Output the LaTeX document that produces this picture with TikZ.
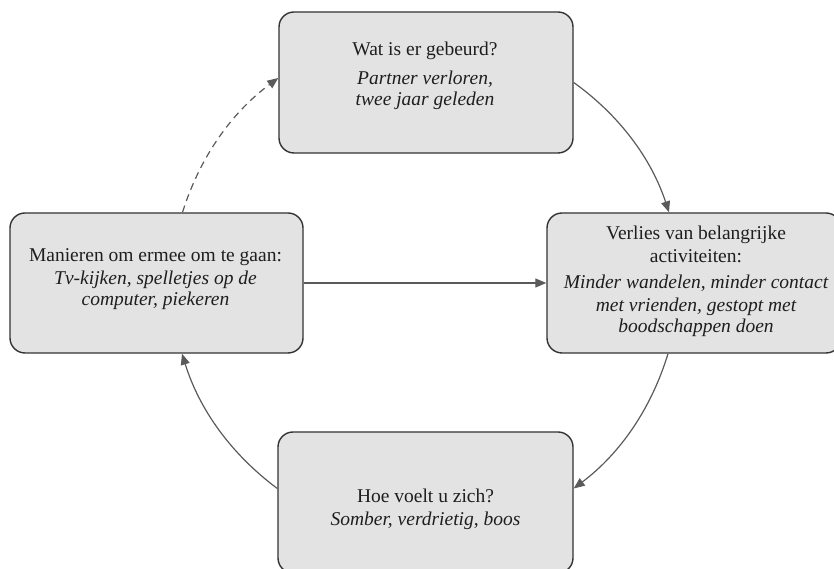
\documentclass[tikz,border=0pt]{standalone}
\usepackage{fontspec}
\setmainfont{Liberation Serif}
\usetikzlibrary{arrows.meta}
\definecolor{boxfill}{HTML}{E3E3E3}
\definecolor{boxline}{HTML}{333333}
\definecolor{arrowc}{HTML}{5A5A5A}
\definecolor{txt}{HTML}{1E1E1E}
\begin{document}
\begin{tikzpicture}[x=1pt,y=1pt,
  box/.style={draw=boxline, line width=1.4pt, fill=boxfill, rounded corners=15pt,
    minimum width=294pt, minimum height=141pt, inner sep=0pt},
  ttl/.style={anchor=base, text=txt, inner sep=0pt, font=\fontsize{19.5}{21.5}\selectfont},
  dsc/.style={anchor=base, text=txt, inner sep=0pt, font=\fontsize{19.5}{21.5}\selectfont\itshape},
  conn/.style={draw=arrowc, line width=1.2pt, -{Triangle[length=11pt,width=9pt]}},
  bendc/.style={bend left=18, looseness=0.9}
]
\useasboundingbox (0,0) rectangle (834,569);
\clip (0,0) rectangle (834,569);

% boxes
\node[box] (top) at (426,486.5) {};
\node[box, minimum height=140pt] (right) at (694,286) {};
\node[box, minimum width=293pt, minimum height=140pt] (left) at (156.5,286) {};
\node[box, minimum width=295pt] (bottom) at (425.5,66.5) {};

% texts
\node[ttl] (t1) at (425,513) {Wat is er gebeurd?};
\node[dsc] (t2) at (425,484) {Partner verloren,};
\node[dsc] (t3) at (425,463) {twee jaar geleden};

\node[ttl] (r1) at (696,329) {Verlies van belangrijke};
\node[ttl] (r2) at (696,306) {activiteiten:};
\node[dsc] (r3) at (696,280) {Minder wandelen, minder contact};
\node[dsc] (r4) at (696,257) {met vrienden, gestopt met};
\node[dsc] (r5) at (696,236) {boodschappen doen};

\node[ttl] (l1) at (155.5,307) {Manieren om ermee om te gaan:};
\node[dsc] (l2) at (155.5,284) {Tv-kijken, spelletjes op de};
\node[dsc] (l3) at (155.5,263) {computer, piekeren};

\node[ttl] (b1) at (425.5,66) {Hoe voelt u zich?};
\node[dsc] (b2) at (425.5,43) {Somber, verdrietig, boos};

% connectors
\draw[conn] (top.east) to[bendc] ([xshift=-25pt]right.north);
\draw[conn] ([xshift=-26pt]right.south) to[bendc] ([yshift=14pt]bottom.east);
\draw[conn] ([yshift=14pt]bottom.west) to[bendc] ([xshift=25.5pt]left.south);
\draw[conn, dash pattern=on 7pt off 5pt] ([xshift=26pt]left.north) to[bendc] ([yshift=4.5pt]top.west);
\draw[conn] (left.east) -- (right.west);
\end{tikzpicture}
\end{document}
